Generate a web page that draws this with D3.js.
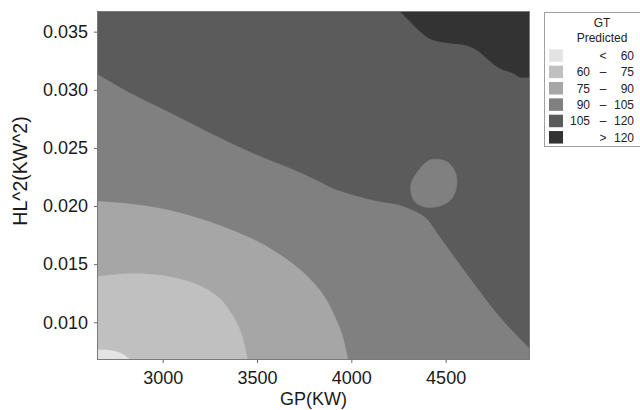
<!DOCTYPE html>
<html>
<head>
<meta charset="utf-8">
<script src="https://cdn.jsdelivr.net/npm/d3@7"></script>
<style>
  body { margin: 0; background: #fff; }
  svg text { font-family: "Liberation Sans", Arial, sans-serif; }
</style>
</head>
<body>
<svg id="chart" width="640" height="410"></svg>
<script>
// Axis extents and ticks
const gpRange = [2657, 4942];
const hlRange = [0.00684, 0.03669];
const xTicks = [3000, 3500, 4000, 4500];
const yTicks = [0.010, 0.015, 0.020, 0.025, 0.030, 0.035];

// Predicted GT bands
const bandLow = ["", "60", "75", "90", "105", ""];
const bandSym = ["<", "–", "–", "–", "–", ">"];
const bandHigh = ["60", "75", "90", "105", "120", "120"];
const bandColors = ["#e4e4e4", "#c0c0c0", "#a6a6a6", "#808080", "#5b5b5b", "#333333"];

// Contour lines of predicted GT, as [GP, HL^2] pairs
const contour60 = [[2657, 0.00768], [2747, 0.00756], [2791, 0.00727], [2827, 0.00684]];
const contour75 = [[2657, 0.01398], [2818, 0.01422], [2995, 0.01407], [3171, 0.01336], [3295, 0.01220],
  [3366, 0.01077], [3419, 0.00905], [3451, 0.00684]];
const contour90 = [[2657, 0.02044], [2818, 0.02024], [2995, 0.01981], [3171, 0.01908], [3348, 0.01809],
  [3525, 0.01680], [3666, 0.01536], [3772, 0.01392], [3860, 0.01220], [3931, 0.00991], [3957, 0.00876],
  [3984, 0.00684]];
const contour105 = [[2657, 0.03134], [2818, 0.02984], [2995, 0.02841], [3171, 0.02697], [3348, 0.02554],
  [3525, 0.02425], [3701, 0.02310], [3834, 0.02210], [3904, 0.02153], [4116, 0.02052], [4258, 0.02009],
  [4346, 0.01951], [4399, 0.01895], [4470, 0.01736], [4611, 0.01422], [4788, 0.01048], [4942, 0.00783]];
// closed pocket of 90-105 inside the 105-120 band
const island105 = [[4452, 0.02402], [4505, 0.02382], [4540, 0.02325], [4558, 0.02253], [4558, 0.02167],
  [4540, 0.02081], [4505, 0.02024], [4434, 0.01989], [4381, 0.01995], [4337, 0.02038], [4315, 0.02124],
  [4320, 0.02210], [4346, 0.02282], [4381, 0.02353], [4417, 0.02396]];
const contour120 = [[4262, 0.03669], [4311, 0.03590], [4364, 0.03504], [4417, 0.03440], [4461, 0.03417],
  [4523, 0.03403], [4611, 0.03383], [4664, 0.03345], [4717, 0.03274], [4770, 0.03202], [4805, 0.03173],
  [4858, 0.03145], [4894, 0.03110], [4942, 0.03110]];

const svg = d3.select("#chart");
const plot = { left: 98, right: 529, top: 12, bottom: 359 };

const x = d3.scaleLinear().domain(gpRange).range([plot.left, plot.right]);
const y = d3.scaleLinear().domain(hlRange).range([plot.bottom, plot.top]);

svg.append("clipPath").attr("id", "plot-clip")
  .append("rect")
  .attr("x", plot.left).attr("y", plot.top)
  .attr("width", plot.right - plot.left).attr("height", plot.bottom - plot.top);

const g = svg.append("g").attr("clip-path", "url(#plot-clip)");

const line = d3.line().x(d => x(d[0])).y(d => y(d[1])).curve(d3.curveCatmullRom.alpha(0.5));
const closedLine = d3.line().x(d => x(d[0])).y(d => y(d[1])).curve(d3.curveCatmullRomClosed.alpha(0.5));

const BR = [gpRange[1], hlRange[0]];
const TR = [gpRange[1], hlRange[1]];
const TL = [gpRange[0], hlRange[1]];

// Area on the high side of a contour line, closed along the plot border
function region(pts, corners) {
  return line(pts) + corners.map(c => `L${x(c[0])},${y(c[1])}`).join("") + "Z";
}

// lowest band as the base
g.append("rect")
  .attr("x", x(gpRange[0])).attr("y", y(hlRange[1]))
  .attr("width", x(gpRange[1]) - x(gpRange[0]))
  .attr("height", y(hlRange[0]) - y(hlRange[1]))
  .attr("fill", bandColors[0]);

const layers = [
  { d: region(contour60, [BR, TR, TL]), fill: bandColors[1] },
  { d: region(contour75, [BR, TR, TL]), fill: bandColors[2] },
  { d: region(contour90, [BR, TR, TL]), fill: bandColors[3] },
  { d: region(contour105, [TR, TL]), fill: bandColors[4] },
  { d: closedLine(island105), fill: bandColors[3] },
  { d: region(contour120, [TR]), fill: bandColors[5] }
];

g.selectAll("path.band").data(layers).join("path")
  .attr("class", "band")
  .attr("d", d => d.d)
  .attr("fill", d => d.fill)
  .attr("stroke", d => d.fill)
  .attr("stroke-width", 0.6);

// Axes
const xAxis = d3.axisBottom(x).tickValues(xTicks).tickFormat(d3.format("d")).tickSize(4).tickPadding(8);
const yAxis = d3.axisLeft(y).tickValues(yTicks).tickFormat(d3.format(".3f")).tickSize(4).tickPadding(6);

const gx = svg.append("g").attr("transform", `translate(0,${plot.bottom})`).call(xAxis);
const gy = svg.append("g").attr("transform", `translate(${plot.left},0)`).call(yAxis);
[gx, gy].forEach(a => {
  a.select(".domain").remove();
  a.selectAll(".tick line").attr("stroke", "#666");
  a.selectAll(".tick text").attr("fill", "#1a1a1a")
    .style("font-family", "'Liberation Sans', Arial, sans-serif").style("font-size", "18px");
});

// Plot frame
svg.append("rect")
  .attr("x", plot.left - 0.5).attr("y", plot.top - 0.5)
  .attr("width", plot.right - plot.left + 1).attr("height", plot.bottom - plot.top + 1)
  .attr("fill", "none").attr("stroke", "#7a7a7a").attr("stroke-width", 1);

// Axis titles
svg.append("text")
  .attr("x", (plot.left + plot.right) / 2).attr("y", 405)
  .attr("text-anchor", "middle").attr("fill", "#1a1a1a")
  .style("font-size", "18px").text("GP(KW)");

svg.append("text")
  .attr("transform", "translate(27,171) rotate(-90)")
  .attr("text-anchor", "middle").attr("fill", "#1a1a1a")
  .style("font-size", "19.5px").text("HL^2(KW^2)");

// Legend
const lg = svg.append("g");
lg.append("rect")
  .attr("x", 544.5).attr("y", 12.5).attr("width", 110).attr("height", 134)
  .attr("fill", "#fff").attr("stroke", "#a0a0a0");
lg.append("text").attr("x", 602).attr("y", 26.5).attr("text-anchor", "middle")
  .attr("fill", "#222").style("font-size", "12px").text("GT");
lg.append("text").attr("x", 602).attr("y", 41.7).attr("text-anchor", "middle")
  .attr("fill", "#222").style("font-size", "12px").text("Predicted");

const rows = lg.selectAll("g.row").data(bandColors).join("g")
  .attr("class", "row")
  .attr("transform", (d, i) => `translate(0,${49.3 + i * 16.35})`);
rows.append("rect").attr("x", 549).attr("y", 0).attr("width", 14).attr("height", 12.5)
  .attr("fill", d => d);
rows.append("text").attr("x", 590).attr("y", 10.7).attr("text-anchor", "end")
  .attr("fill", "#222").style("font-size", "12px").text((d, i) => bandLow[i]);
rows.append("text").attr("x", 603).attr("y", 10.7).attr("text-anchor", "middle")
  .attr("fill", "#222").style("font-size", "12px").text((d, i) => bandSym[i]);
rows.append("text").attr("x", 634).attr("y", 10.7).attr("text-anchor", "end")
  .attr("fill", "#222").style("font-size", "12px").text((d, i) => bandHigh[i]);
</script>
</body>
</html>
